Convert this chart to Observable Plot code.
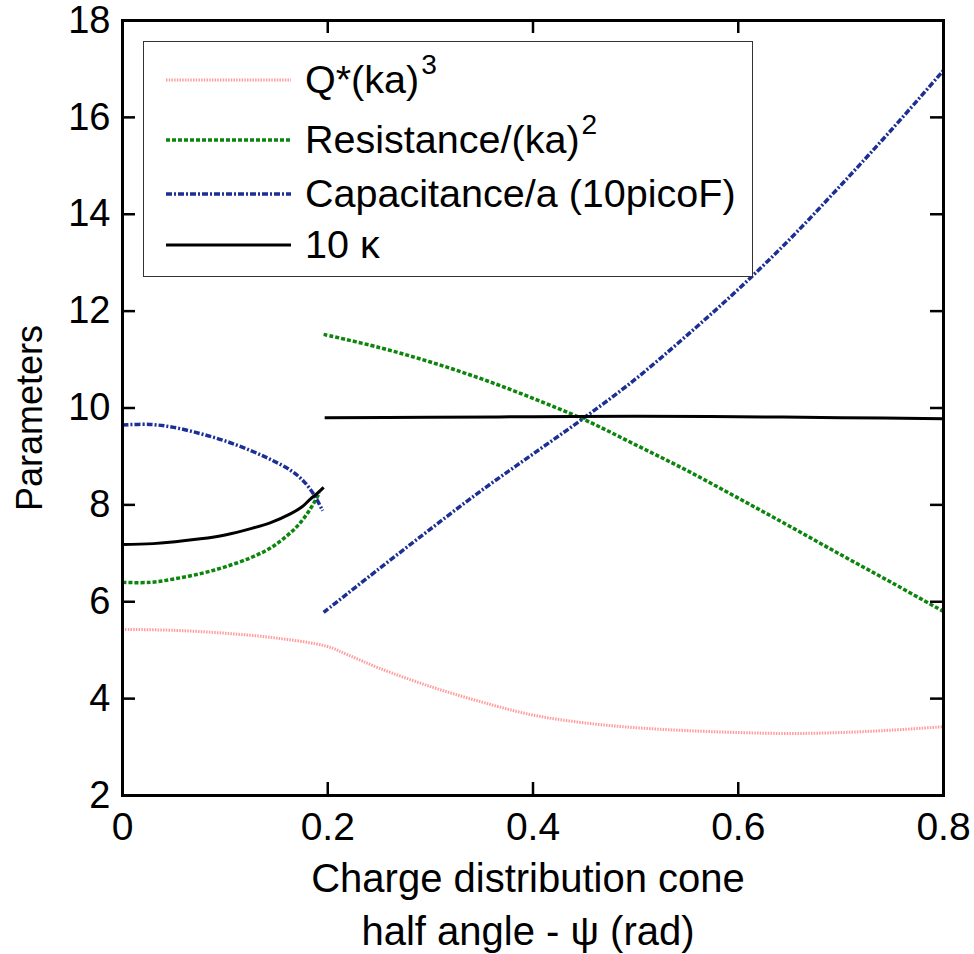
<!DOCTYPE html>
<html>
<head>
<meta charset="utf-8">
<script src="https://cdn.jsdelivr.net/npm/d3@7"></script>
<script src="https://cdn.jsdelivr.net/npm/@observablehq/plot@0.6"></script>
<style>
  html, body { margin: 0; padding: 0; background: #fff; }
  #wrap { position: relative; width: 974px; height: 954px; font-family: "Liberation Sans", Arial, sans-serif; }
  #legend { position: absolute; left: 143px; top: 41px; width: 608px; height: 234px; border: 1.5px solid #333; background: #fff; box-sizing: content-box; }
  .row { position: absolute; left: 0; height: 50px; display: flex; align-items: center; }
  .row svg { margin-left: 22px; margin-right: 14px; }
  .row span { font-size: 38px; color: #000; line-height: 1; white-space: nowrap; display: inline-block; transform: scaleX(1.04); transform-origin: left center; }
  .row sup { font-size: 27px; vertical-align: 0; position: relative; top: -19px; margin-left: 2px; }
</style>
</head>
<body>
<div id="wrap"></div>
<script>
// ---- data ----
const xTicks = [0, 0.2, 0.4, 0.6, 0.8];
const yTicks = [2, 4, 6, 8, 10, 12, 14, 16, 18];

// Q*(ka)^3 (continuous)
const psiQ = [0, 0.05, 0.1, 0.15, 0.199, 0.22, 0.25, 0.3, 0.35, 0.4, 0.45, 0.5, 0.55, 0.6, 0.65, 0.7, 0.75, 0.8];
const q    = [5.43, 5.41, 5.35, 5.25, 5.08, 4.9, 4.63, 4.25, 3.93, 3.66, 3.5, 3.4, 3.34, 3.3, 3.28, 3.3, 3.35, 3.42];

// Resistance/(ka)^2 — two branches
const psiR1 = [0, 0.027, 0.05, 0.076, 0.1, 0.125, 0.145, 0.164, 0.172, 0.18, 0.186, 0.192];
const res1  = [6.4, 6.4, 6.47, 6.58, 6.72, 6.91, 7.12, 7.43, 7.6, 7.82, 8.02, 8.25];
const psiR2 = [0.196, 0.25, 0.3, 0.35, 0.4, 0.45, 0.5, 0.55, 0.6, 0.65, 0.7, 0.75, 0.8];
const res2  = [11.52, 11.25, 10.95, 10.6, 10.2, 9.76, 9.24, 8.71, 8.14, 7.56, 6.97, 6.39, 5.8];

// Capacitance/a (10picoF) — two branches
const psiC1 = [0, 0.027, 0.05, 0.076, 0.1, 0.125, 0.145, 0.164, 0.176, 0.186, 0.195];
const cap1  = [9.65, 9.66, 9.6, 9.47, 9.32, 9.12, 8.93, 8.71, 8.5, 8.23, 7.88];
const psiC2 = [0.196, 0.25, 0.3, 0.35, 0.4, 0.45, 0.5, 0.55, 0.6, 0.65, 0.7, 0.75, 0.8];
const cap2  = [5.78, 6.68, 7.5, 8.3, 9.05, 9.8, 10.6, 11.5, 12.45, 13.48, 14.6, 15.76, 16.97];

// 10 kappa — two branches
const psiK1 = [0, 0.03, 0.076, 0.1, 0.125, 0.145, 0.164, 0.175, 0.183, 0.19, 0.196];
const kap1  = [7.18, 7.2, 7.3, 7.38, 7.51, 7.64, 7.82, 7.96, 8.12, 8.24, 8.36];
const psiK2 = [0.197, 0.3, 0.4, 0.5, 0.6, 0.7, 0.8];
const kap2  = [9.8, 9.81, 9.82, 9.83, 9.82, 9.8, 9.78];

const seriesNames = ["Q*(ka)", "Resistance/(ka)", "Capacitance/a (10picoF)", "10 κ"];

// ---- styles ----
const styles = {
  q:   {stroke: "#ff3b3b", strokeOpacity: 0.5, strokeWidth: 3, strokeDasharray: "1.5,1.2", strokeLinecap: "butt"},
  res: {stroke: "#0c850c", strokeWidth: 3.5, strokeDasharray: "4,2", strokeLinecap: "butt"},
  cap: {stroke: "#1b2f95", strokeWidth: 3.5, strokeDasharray: "6,2,2,2", strokeLinecap: "butt"},
  kap: {stroke: "#000", strokeWidth: 3, strokeLinecap: "butt"}
};

const toRows = (xs, ys) => xs.map((x, i) => ({x, y: ys[i]}));
const lineOf = (xs, ys, st) => Plot.line(toRows(xs, ys), {x: "x", y: "y", curve: "catmull-rom", ...st});

const font = "'Liberation Sans', Arial, sans-serif";

const chart = Plot.plot({
  width: 974,
  height: 954,
  marginLeft: 122,
  marginRight: 31,
  marginTop: 20,
  marginBottom: 159,
  x: {domain: [0, 0.8]},
  y: {domain: [2, 18]},
  style: {fontFamily: font, background: "#fff", color: "#000", overflow: "visible"},
  marks: [
    lineOf(psiQ, q, styles.q),
    lineOf(psiR1, res1, styles.res),
    lineOf(psiR2, res2, styles.res),
    lineOf(psiC1, cap1, styles.cap),
    lineOf(psiC2, cap2, styles.cap),
    lineOf(psiK1, kap1, styles.kap),
    lineOf(psiK2, kap2, styles.kap),
    // inward ticks on all four sides
    Plot.tickX(xTicks, {x: d => d, insetTop: 762, stroke: "#000", strokeWidth: 2.5}),
    Plot.tickX(xTicks, {x: d => d, insetBottom: 762, stroke: "#000", strokeWidth: 2.5}),
    Plot.tickY(yTicks, {y: d => d, insetRight: 808, stroke: "#000", strokeWidth: 2.5}),
    Plot.tickY(yTicks, {y: d => d, insetLeft: 808, stroke: "#000", strokeWidth: 2.5}),
    Plot.frame({stroke: "#000", strokeWidth: 3}),
    Plot.axisX(xTicks, {tickSize: 0, tickPadding: 17, fontSize: 39, label: null, tickFormat: d => String(d)}),
    Plot.axisY(yTicks, {tickSize: 0, tickPadding: 12, fontSize: 38, label: null, tickFormat: d => String(d)}),
    Plot.text(["Charge distribution cone\nhalf angle - ψ (rad)"], {text: d => d, frameAnchor: "bottom", lineAnchor: "top", dy: 59, dx: -5, fontSize: 40, lineHeight: 1.32, fill: "#000"}),
    Plot.text(["Parameters"], {text: d => d, frameAnchor: "left", textAnchor: "middle", rotate: -90, dx: -92, dy: 10, fontSize: 36, fill: "#000"})
  ]
});

const wrap = document.getElementById("wrap");
wrap.appendChild(chart);

// ---- legend ----
const legend = document.createElement("div");
legend.id = "legend";
const legendRows = [
  {name: seriesNames[0], sup: "3", st: styles.q, top: 13},
  {name: seriesNames[1], sup: "2", st: styles.res, top: 73},
  {name: seriesNames[2], sup: "", st: styles.cap, top: 127},
  {name: seriesNames[3], sup: "", st: styles.kap, top: 178}
];
legendRows.forEach(r => {
  const row = document.createElement("div");
  row.className = "row";
  row.style.top = r.top + "px";
  const s = r.st;
  row.innerHTML =
    `<svg width="125" height="10"><line x1="0" x2="125" y1="5" y2="5" stroke="${s.stroke}" stroke-width="${s.strokeWidth}"` +
    (s.strokeOpacity ? ` stroke-opacity="${s.strokeOpacity}"` : "") +
    (s.strokeDasharray ? ` stroke-dasharray="${s.strokeDasharray}"` : "") + `/></svg>` +
    `<span>${r.name}${r.sup ? `<sup>${r.sup}</sup>` : ""}</span>`;
  legend.appendChild(row);
});
wrap.appendChild(legend);
</script>
</body>
</html>
